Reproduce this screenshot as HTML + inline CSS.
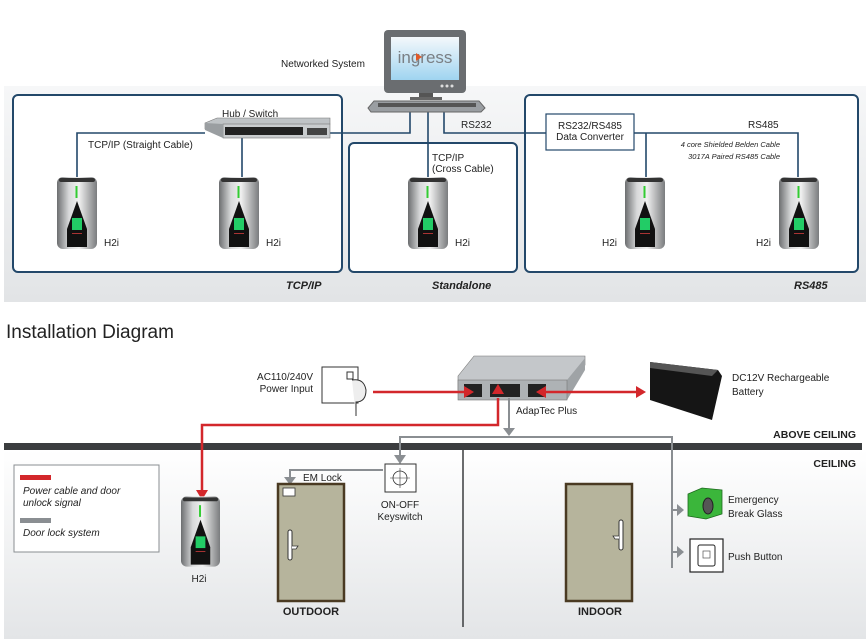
<!DOCTYPE html>
<html><head><meta charset="utf-8"><style>
html,body{margin:0;padding:0;background:#fff;}
svg{display:block;font-family:"Liberation Sans",sans-serif;}
</style></head><body>
<svg width="866" height="639" viewBox="0 0 866 639" xmlns="http://www.w3.org/2000/svg">
<defs>
<linearGradient id="bg1" x1="0" y1="0" x2="0" y2="1"><stop offset="0" stop-color="#f6f7f8"/><stop offset="1" stop-color="#e2e4e6"/></linearGradient>
<linearGradient id="bg2" x1="0" y1="0" x2="0" y2="1"><stop offset="0" stop-color="#ffffff"/><stop offset="1" stop-color="#e3e5e7"/></linearGradient>
<linearGradient id="dev" x1="0" y1="0" x2="1" y2="0"><stop offset="0" stop-color="#6c6e70"/><stop offset="0.3" stop-color="#d8d9da"/><stop offset="0.55" stop-color="#f0f0f0"/><stop offset="1" stop-color="#7a7c7e"/></linearGradient>
<linearGradient id="scr" x1="0" y1="0" x2="0" y2="1"><stop offset="0" stop-color="#f4f8fb"/><stop offset="1" stop-color="#9fd4f0"/></linearGradient>
<symbol id="h2i" viewBox="0 0 40 72">
<rect x="0" y="0" width="40" height="72" rx="6" fill="url(#dev)"/>
<rect x="2" y="1" width="36" height="4" rx="2" fill="#333"/>
<rect x="18.5" y="9" width="2" height="12" fill="#3c3"/>
<path d="M20 24 L30 52 L30 70 L10 70 L10 52 Z" fill="#111"/>
<rect x="15" y="41" width="10" height="12" fill="#2c6"/>
<rect x="15" y="56" width="10" height="1" fill="#a33"/>
</symbol>
</defs>

<rect x="4" y="86" width="862" height="216" fill="url(#bg1)"/>

<rect x="13" y="95" width="329" height="177" rx="5" fill="#fff" stroke="#23486a" stroke-width="2"/>
<rect x="349" y="143" width="168" height="129" rx="5" fill="#fff" stroke="#23486a" stroke-width="2"/>
<rect x="525" y="95" width="333" height="177" rx="5" fill="#fff" stroke="#23486a" stroke-width="2"/>

<g stroke="#23486a" stroke-width="1.6" fill="none">
<path d="M77 178 V133 H205"/>
<path d="M242 138 V180"/>
<path d="M330 133 H410 V110"/>
<path d="M428 110 V180"/>
<path d="M444 110 V133 H547"/>
<path d="M633 133 H798 V180"/>
<path d="M646 133 V180"/>
</g>

<rect x="384" y="30" width="82" height="63" rx="4" fill="#6a6d70"/>
<rect x="391" y="37" width="68" height="43" fill="url(#scr)"/>
<text x="425" y="63" font-size="17" fill="#7a7f84" text-anchor="middle">ingress</text>
<polygon points="416,53 422,57 416,61" fill="#e05a2a"/>
<circle cx="442" cy="86" r="1.5" fill="#ddd"/><circle cx="447" cy="86" r="1.5" fill="#ddd"/><circle cx="452" cy="86" r="1.5" fill="#ddd"/>
<rect x="419" y="93" width="14" height="5" fill="#555"/>
<rect x="410" y="97" width="32" height="3" fill="#666"/>
<path d="M374 101 H479 L485 108 L481 112 H371 L368 108 Z" fill="#9a9ea2" stroke="#666" stroke-width="1"/>
<rect x="378" y="103" width="98" height="4" fill="#555"/>
<text x="281" y="67" font-size="10" fill="#222">Networked System</text>

<polygon points="205,123 217,118 330,118 330,124 318,129 205,129" fill="#bfc3c6" stroke="#777" stroke-width="0.6"/>
<rect x="223" y="124" width="107" height="14" fill="#c9ccce" stroke="#777" stroke-width="0.6"/>
<polygon points="205,123 223,124 223,138 205,130" fill="#9a9ea1"/>
<rect x="225" y="127" width="78" height="8" fill="#222"/>
<rect x="307" y="128" width="20" height="7" fill="#444"/>
<text x="222" y="117" font-size="10" fill="#222">Hub / Switch</text>
<text x="88" y="148" font-size="10" fill="#222">TCP/IP (Straight Cable)</text>

<text x="432" y="161" font-size="10" fill="#222">TCP/IP</text>
<text x="432" y="172" font-size="10" fill="#222">(Cross Cable)</text>
<text x="461" y="128" font-size="10" fill="#222">RS232</text>

<rect x="546" y="114" width="88" height="36" fill="#fff" stroke="#23486a" stroke-width="1.2"/>
<text x="590" y="129" font-size="10" fill="#222" text-anchor="middle">RS232/RS485</text>
<text x="590" y="140" font-size="10" fill="#222" text-anchor="middle">Data Converter</text>
<text x="748" y="128" font-size="10" fill="#222">RS485</text>
<text x="780" y="147" font-size="7.5" font-style="italic" fill="#222" text-anchor="end">4 core Shielded Belden Cable</text>
<text x="780" y="159" font-size="7.5" font-style="italic" fill="#222" text-anchor="end">3017A Paired RS485 Cable</text>

<use href="#h2i" x="57" y="177" width="40" height="72"/>
<use href="#h2i" x="219" y="177" width="40" height="72"/>
<use href="#h2i" x="408" y="177" width="40" height="72"/>
<use href="#h2i" x="625" y="177" width="40" height="72"/>
<use href="#h2i" x="779" y="177" width="40" height="72"/>
<g font-size="10" fill="#222">
<text x="104" y="246">H2i</text><text x="266" y="246">H2i</text><text x="455" y="246">H2i</text><text x="602" y="246">H2i</text><text x="756" y="246">H2i</text>
</g>
<g font-size="11" font-weight="bold" font-style="italic" fill="#222">
<text x="286" y="289">TCP/IP</text><text x="432" y="289">Standalone</text><text x="794" y="289">RS485</text>
</g>

<text x="6" y="338" font-size="19" fill="#222">Installation Diagram</text>

<rect x="4" y="450" width="862" height="189" fill="url(#bg2)"/>
<rect x="4" y="443" width="858" height="7" fill="#3b3d3f"/>
<text x="856" y="438" font-size="10.5" font-weight="bold" fill="#222" text-anchor="end">ABOVE CEILING</text>
<text x="856" y="467" font-size="10.5" font-weight="bold" fill="#222" text-anchor="end">CEILING</text>
<line x1="463" y1="450" x2="463" y2="627" stroke="#3b3d3f" stroke-width="1.5"/>

<rect x="322" y="367" width="36" height="36" fill="#fff" stroke="#333"/>
<rect x="347" y="372" width="6" height="7" fill="none" stroke="#333"/>
<path d="M352 380 q12 -2 14 10 q0 12 -10 12 v14" fill="#eee" stroke="#333"/>
<text x="313" y="380" font-size="10" fill="#222" text-anchor="end">AC110/240V</text>
<text x="313" y="392" font-size="10" fill="#222" text-anchor="end">Power Input</text>

<polygon points="458,376 474,356 585,356 585,365 567,390 458,390" fill="#c4c7ca" stroke="#777" stroke-width="0.6"/>
<polygon points="567,380 585,358 585,370 567,400" fill="#9fa3a6"/>
<rect x="458" y="380" width="109" height="20" fill="#aeb2b5" stroke="#777" stroke-width="0.6"/>
<rect x="464" y="384" width="18" height="13" fill="#222"/>
<rect x="490" y="384" width="30" height="13" fill="#222"/>
<rect x="528" y="384" width="18" height="13" fill="#222"/>
<text x="516" y="414" font-size="10" fill="#222">AdapTec Plus</text>

<polygon points="650,362 718,370 722,376 712,420 650,400" fill="#151515"/>
<polygon points="650,362 718,370 712,376 650,368" fill="#555"/>
<text x="732" y="381" font-size="10" fill="#222">DC12V Rechargeable</text>
<text x="732" y="395" font-size="10" fill="#222">Battery</text>

<g stroke="#d3272b" stroke-width="2.5" fill="none">
<path d="M373 392 H464"/>
<path d="M546 392 H636"/>
<path d="M498 398 V425 H202 V490"/>
</g>
<g fill="#d3272b">
<polygon points="464,386 474,392 464,398"/>
<polygon points="546,386 536,392 546,398"/>
<polygon points="636,386 646,392 636,398"/>
<polygon points="196,490 208,490 202,500"/>
<polygon points="492,394 504,394 498,384"/>
</g>

<g stroke="#8a8e92" stroke-width="2" fill="none">
<path d="M509 398 V428"/>
<path d="M400 455 V437 H672 V568"/>
<path d="M383 470 H290 V478"/>
<path d="M672 510 H678"/><path d="M672 552 H678"/>
</g>
<g fill="#8a8e92">
<polygon points="503,428 515,428 509,436"/>
<polygon points="394,455 406,455 400,464"/>
<polygon points="284,477 296,477 290,485"/>
<polygon points="677,504 684,510 677,516"/>
<polygon points="677,546 684,552 677,558"/>
</g>

<rect x="385" y="464" width="31" height="28" fill="#fff" stroke="#333"/>
<circle cx="400" cy="478" r="7" fill="none" stroke="#333" stroke-width="0.8"/>
<line x1="390" y1="478" x2="410" y2="478" stroke="#333" stroke-width="0.6"/>
<line x1="400" y1="468" x2="400" y2="488" stroke="#333" stroke-width="0.6"/>
<text x="303" y="481" font-size="10" fill="#222">EM Lock</text>
<text x="400" y="508" font-size="10" fill="#222" text-anchor="middle">ON-OFF</text>
<text x="400" y="520" font-size="10" fill="#222" text-anchor="middle">Keyswitch</text>

<rect x="278" y="484" width="66" height="117" fill="#b6b49c" stroke="#4a3a22" stroke-width="2.5"/>
<rect x="283" y="488" width="12" height="8" fill="#fff" stroke="#333" stroke-width="0.8"/>
<rect x="288" y="530" width="4" height="30" rx="2" fill="#fff" stroke="#333"/>
<path d="M292 546 h6 l-2 3 h-4" fill="#fff" stroke="#333" stroke-width="0.8"/>
<text x="311" y="615" font-size="11" font-weight="bold" fill="#222" text-anchor="middle">OUTDOOR</text>
<rect x="566" y="484" width="66" height="117" fill="#b6b49c" stroke="#4a3a22" stroke-width="2.5"/>
<rect x="619" y="520" width="4" height="30" rx="2" fill="#fff" stroke="#333"/>
<path d="M619 536 h-6 l2 3 h4" fill="#fff" stroke="#333" stroke-width="0.8"/>
<text x="600" y="615" font-size="11" font-weight="bold" fill="#222" text-anchor="middle">INDOOR</text>

<use href="#h2i" x="181" y="496" width="39" height="71"/>
<text x="199" y="582" font-size="10" fill="#222" text-anchor="middle">H2i</text>

<polygon points="688,494 702,488 722,490 722,514 706,519 688,516" fill="#3bb63b" stroke="#1e6a1e" stroke-width="0.8"/>
<ellipse cx="708" cy="506" rx="5" ry="8" fill="#555" stroke="#222"/>
<text x="728" y="503" font-size="10" fill="#222">Emergency</text>
<text x="728" y="517" font-size="10" fill="#222">Break Glass</text>
<rect x="690" y="539" width="33" height="33" fill="#fff" stroke="#222" stroke-width="1.2"/>
<rect x="698" y="545" width="17" height="21" rx="2" fill="none" stroke="#222"/>
<rect x="703" y="551" width="7" height="7" fill="none" stroke="#555" stroke-width="0.7"/>
<text x="728" y="560" font-size="10" fill="#222">Push Button</text>

<rect x="14" y="465" width="145" height="87" fill="#fff" stroke="#8a8e92" stroke-width="1"/>
<rect x="20" y="475" width="31" height="5" fill="#d3272b"/>
<text x="23" y="494" font-size="10" font-style="italic" fill="#222">Power cable and door</text>
<text x="23" y="506" font-size="10" font-style="italic" fill="#222">unlock signal</text>
<rect x="20" y="518" width="31" height="5" fill="#8a8e92"/>
<text x="23" y="536" font-size="10" font-style="italic" fill="#222">Door lock system</text>
</svg>
</body></html>
